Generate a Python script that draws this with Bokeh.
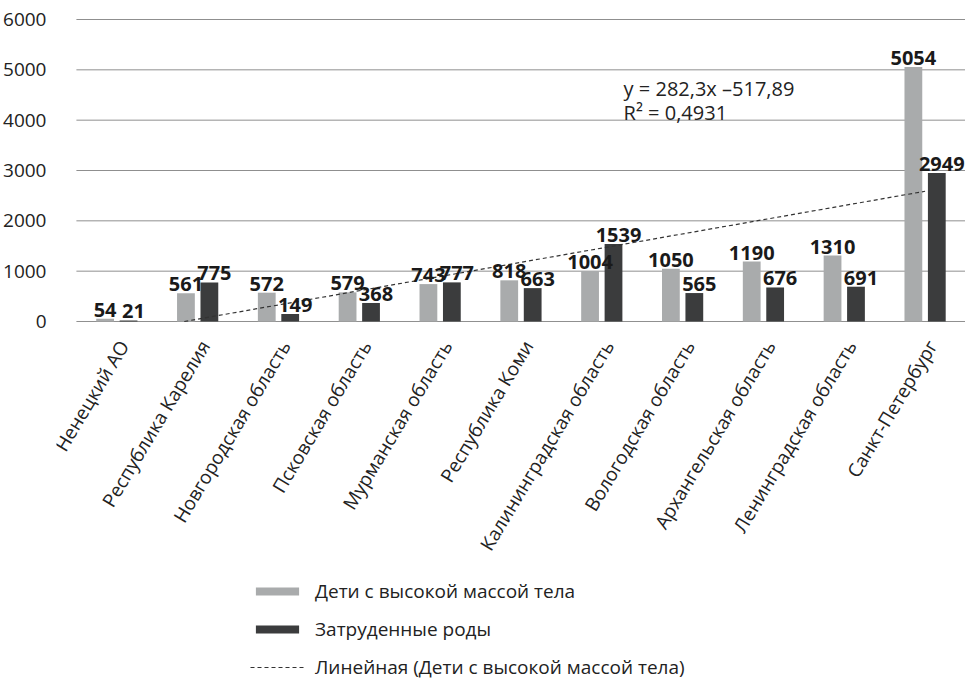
import numpy as np
from bokeh.plotting import figure
from bokeh.models import Range1d, FixedTicker, Legend, LegendItem, Label, ColumnDataSource
from bokeh.core.properties import value
from bokeh.embed import file_html
from bokeh.resources import INLINE

# ---- data ----
regions = [
    "Ненецкий АО",
    "Республика Карелия",
    "Новгородская область",
    "Псковская область",
    "Мурманская область",
    "Республика Коми",
    "Калининградская область",
    "Вологодская область",
    "Архангельская область",
    "Ленинградская область",
    "Санкт-Петербург",
]
high_weight = [54, 561, 572, 579, 743, 818, 1004, 1050, 1190, 1310, 5054]
difficult_birth = [21, 775, 149, 368, 777, 663, 1539, 565, 676, 691, 2949]
trend_slope = 282.3
trend_intercept = -517.89
trend_x_end = 11
y_ticks = [0, 1000, 2000, 3000, 4000, 5000, 6000]
series_names = ["Дети с высокой массой тела", "Затруденные роды",
                "Линейная (Дети с высокой массой тела)"]
equation_text = "y = 282,3x –517,89"
r2_text = "R² = 0,4931"

FONT = "Open Sans"
GRAY = "#a9abac"
DARK = "#3b3c3d"
GRID = "#8f8f8f"
TXT = "#222222"

pos = np.arange(1, len(regions) + 1)
src = ColumnDataSource(dict(
    x=pos,
    base=np.zeros(len(pos)),
    xg=pos - 0.145,
    xd=pos + 0.145,
    hw=high_weight,
    db=difficult_birth,
    hw_t=[str(v) for v in high_weight],
    db_t=[str(v) for v in difficult_birth],
    names=regions,
))

# frame covers the whole canvas below the top border; the area under 0
# holds the rotated category labels and the legend
p = figure(width=965, height=682,
           x_range=Range1d(0.2536, 11.5), y_range=Range1d(-7173, 6040),
           output_backend="svg", toolbar_location=None,
           min_border_left=52, min_border_top=17, min_border_right=0,
           min_border_bottom=0)
p.outline_line_color = None
p.background_fill_color = "white"
p.border_fill_color = "white"
p.xaxis.visible = False
p.xgrid.grid_line_color = None
p.ygrid.grid_line_color = None

p.yaxis.ticker = FixedTicker(ticks=y_ticks)
p.yaxis.axis_line_color = None
p.yaxis.major_tick_line_color = None
p.yaxis.minor_tick_line_color = None
p.yaxis.major_label_standoff = 4
p.yaxis.major_label_text_font = FONT
p.yaxis.major_label_text_font_size = "19px"
p.yaxis.major_label_text_color = TXT

# horizontal grid lines across the category span
p.segment(x0=[0.5] * len(y_ticks), x1=[11.5] * len(y_ticks), y0=y_ticks, y1=y_ticks,
          line_color=GRID, line_width=1)

r1 = p.vbar(x="xg", top="hw", width=0.22, source=src, fill_color=GRAY, line_color=None)
r2 = p.vbar(x="xd", top="db", width=0.22, source=src, fill_color=DARK, line_color=None)

tx = np.array([-trend_intercept / trend_slope, trend_x_end], dtype=float)
ty = trend_slope * tx + trend_intercept
r3 = p.line(tx, ty, line_color="#333333", line_width=1.2, line_dash="4 3")

p.text(x="xg", y="hw", text="hw_t", source=src, text_align="center",
       text_baseline="bottom", y_offset=-2, text_font=value(FONT),
       text_font_style="bold", text_font_size="20px", text_color="#1a1a1a")
p.text(x="xd", y="db", text="db_t", source=src, text_align="center",
       text_baseline="bottom", y_offset=-2, x_offset=5, text_font=value(FONT),
       text_font_style="bold", text_font_size="20px", text_color="#1a1a1a")

# category labels, rotated, hanging from the baseline
p.text(x="x", y="base", text="names", source=src, angle=1.03,
       text_align="right", text_baseline="top", x_offset=-4, y_offset=14,
       text_font=value(FONT), text_font_size="19px", text_color=TXT)

p.add_layout(Label(x=7.27, y=4900, text=equation_text, text_baseline="top",
                   text_font=FONT, text_font_size="20px", text_color=TXT))
p.add_layout(Label(x=7.27, y=4430, text=r2_text, text_baseline="top",
                   text_font=FONT, text_font_size="20px", text_color=TXT))

legend = Legend(items=[
    LegendItem(label=series_names[0], renderers=[r1]),
    LegendItem(label=series_names[1], renderers=[r2]),
    LegendItem(label=series_names[2], renderers=[r3]),
], location=(194, 2), orientation="vertical", glyph_width=54, glyph_height=10,
    label_text_font=FONT, label_text_font_size="19px", label_text_color=TXT,
    spacing=12, label_height=20, padding=0, margin=0,
    border_line_color=None, background_fill_alpha=0, label_standoff=11)
p.add_layout(legend, "center")

open("out.html", "w").write(file_html(p, INLINE))
